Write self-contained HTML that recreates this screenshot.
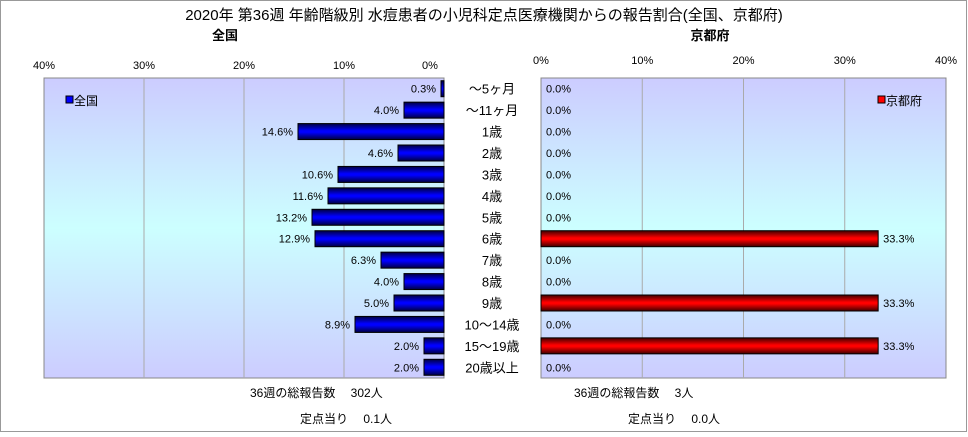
<!DOCTYPE html>
<html><head><meta charset="utf-8"><style>
body{margin:0;background:#fff;}
svg text{font-family:"Liberation Sans","Noto Sans CJK JP",sans-serif;}
</style></head><body>
<svg id="c" width="968" height="432" xmlns="http://www.w3.org/2000/svg">
<defs>
<linearGradient id="bg" x1="0" y1="0" x2="0" y2="1"><stop offset="0" stop-color="#ccccff"/><stop offset="0.5" stop-color="#ccffff"/><stop offset="1" stop-color="#ccccff"/></linearGradient>
<linearGradient id="gb" x1="0" y1="0" x2="0" y2="1"><stop offset="0" stop-color="#000040"/><stop offset="0.45" stop-color="#0000ff"/><stop offset="0.55" stop-color="#0000ff"/><stop offset="1" stop-color="#000040"/></linearGradient>
<linearGradient id="gr" x1="0" y1="0" x2="0" y2="1"><stop offset="0" stop-color="#400000"/><stop offset="0.45" stop-color="#ff0000"/><stop offset="0.55" stop-color="#ff0000"/><stop offset="1" stop-color="#400000"/></linearGradient>
</defs>
<rect x="0.5" y="0.5" width="966" height="431" fill="none" stroke="#999"/>
<text x="484" y="20" font-size="15" text-anchor="middle">2020年 第36週 年齢階級別 水痘患者の小児科定点医療機関からの報告割合(全国、京都府)</text>
<text x="225" y="40" font-size="13" font-weight="bold" text-anchor="middle">全国</text>
<text x="710" y="40" font-size="13" font-weight="bold" text-anchor="middle">京都府</text>
<g id="g"></g>
</svg>
<script>
const categories=["～5ヶ月","～11ヶ月","1歳","2歳","3歳","4歳","5歳","6歳","7歳","8歳","9歳","10～14歳","15～19歳","20歳以上"];
const nationalValues=[0.3,4.0,14.6,4.6,10.6,11.6,13.2,12.9,6.3,4.0,5.0,8.9,2.0,2.0];
const kyotoValues=[0,0,0,0,0,0,0,33.3,0,0,33.3,0,33.3,0];
const tickValues=[0,10,20,30,40];
const NS="http://www.w3.org/2000/svg";
const gEl=document.getElementById('g');
function mk(t,a,txt){const e=document.createElementNS(NS,t);for(const k in a)e.setAttribute(k,a[k]);if(txt!==undefined)e.textContent=txt;gEl.appendChild(e);return e;}
const plotTop=78,plotBot=378,rowH=(plotBot-plotTop)/categories.length,barH=16;
const L={x0:444,x1:44},R={x0:541,x1:946};
const xl=v=>L.x0-(L.x0-L.x1)*v/40;
const xr=v=>R.x0+(R.x1-R.x0)*v/40;
const yc=i=>plotTop+rowH*(i+0.5);
let e;
e=mk('rect',{x:L.x1,y:plotTop,width:L.x0-L.x1,height:plotBot-plotTop,fill:'url(#bg)',stroke:'#888'});

e=mk('rect',{x:R.x0,y:plotTop,width:R.x1-R.x0,height:plotBot-plotTop,fill:'url(#bg)',stroke:'#888'});

tickValues.forEach(v=>{
 if(v>0&&v<40){
  e=mk('line',{x1:xl(v),x2:xl(v),y1:plotTop,y2:plotBot,stroke:'#aaa'});
  
  e=mk('line',{x1:xr(v),x2:xr(v),y1:plotTop,y2:plotBot,stroke:'#aaa'});
  
 }
 e=mk('text',{x:v===0?xl(v)-14:xl(v),y:69,'font-size':11,'text-anchor':'middle'},v+'%');
 
 e=mk('text',{x:xr(v),y:64,'font-size':11,'text-anchor':'middle'},v+'%');
 
});
categories.forEach((c,i)=>{
 const y=yc(i);
 e=mk('text',{x:492,y:y+5,'font-size':13,'text-anchor':'middle'},c);
 
 const v=nationalValues[i];
 e=mk('rect',{x:xl(v),y:y-barH/2,width:L.x0-xl(v),height:barH,fill:'url(#gb)',stroke:'#000','stroke-width':1});
 
 e=mk('text',{x:xl(v)-5,y:y+4,'font-size':11,'text-anchor':'end'},v.toFixed(1)+'%');
 
 const k=kyotoValues[i];
 if(k>0){
  e=mk('rect',{x:R.x0,y:y-barH/2,width:xr(k)-R.x0,height:barH,fill:'url(#gr)',stroke:'#000','stroke-width':1});
  
 }
 e=mk('text',{x:xr(k)+5,y:y+4,'font-size':11},k.toFixed(1)+'%');
 
});
e=mk('rect',{x:66,y:96,width:7,height:7,fill:'#0000ff',stroke:'#000'});

e=mk('text',{x:74,y:105,'font-size':12},'全国');

e=mk('rect',{x:878,y:96,width:7,height:7,fill:'#ff0000',stroke:'#000'});

e=mk('text',{x:886,y:105,'font-size':12},'京都府');

[[250,397,'36週の総報告数　 302人','national-total'],[300,423,'定点当り　 0.1人','national-per-site'],[574,397,'36週の総報告数　 3人','kyoto-total'],[628,423,'定点当り　 0.0人','kyoto-per-site']].forEach(a=>{
 e=mk('text',{x:a[0],y:a[1],'font-size':12},a[2]);
 
});
</script>
</body></html>
